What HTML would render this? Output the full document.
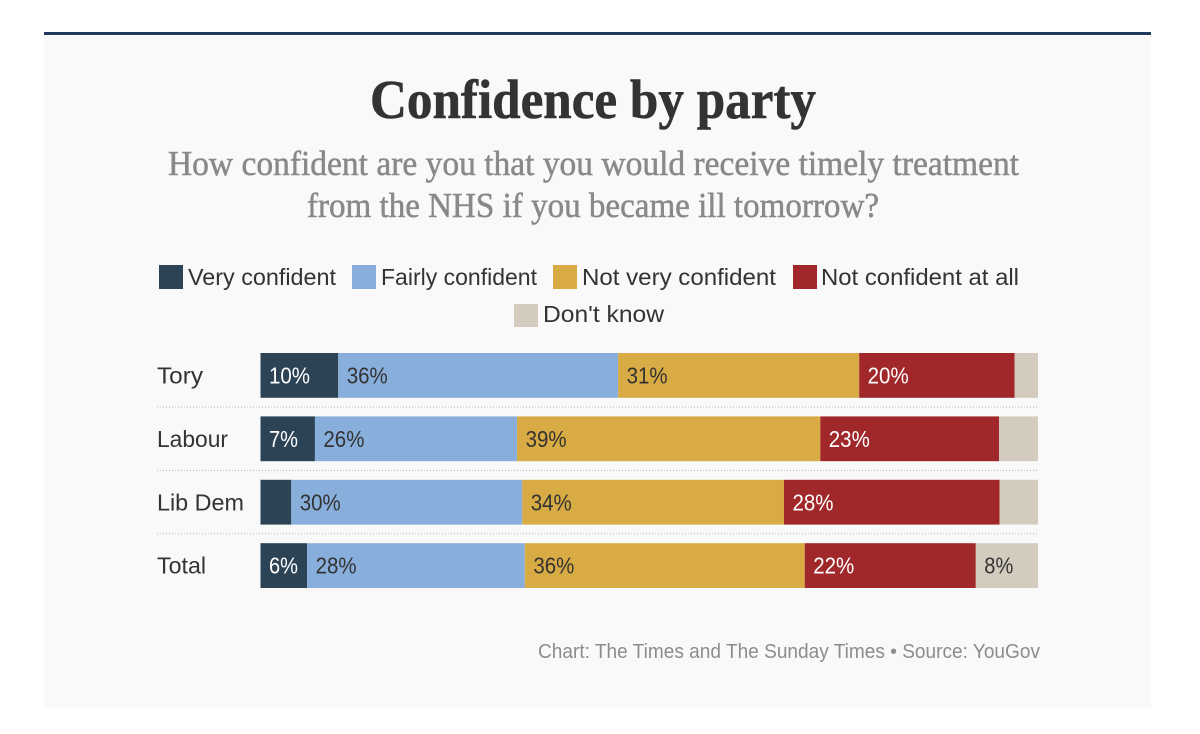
<!DOCTYPE html>
<html lang="en">
<head>
<meta charset="utf-8">
<title>Confidence by party</title>
<style>
html,body{margin:0;padding:0;background:#fff;width:1200px;height:734px;overflow:hidden}
svg{display:block}
.sans{font-family:"Liberation Sans",sans-serif}
.serif{font-family:"Liberation Serif",serif}
</style>
</head>
<body>
<svg id="chart" xmlns="http://www.w3.org/2000/svg" width="1200" height="734" viewBox="0 0 1200 734">
  <rect x="44" y="36" width="1107" height="671.5" fill="#f9f9f9"/>
  <rect x="44" y="32" width="1107" height="3" fill="#1f3a5c"/>
  <text class="serif" x="370" y="118" font-size="55" font-weight="700" fill="#333333" stroke="#333333" stroke-width="0.6" textLength="446" lengthAdjust="spacingAndGlyphs">Confidence by party</text>
  <text class="serif" x="168" y="175" font-size="35" fill="#88898a" stroke="#88898a" stroke-width="0.5" textLength="851" lengthAdjust="spacingAndGlyphs">How confident are you that you would receive timely treatment</text>
  <text class="serif" x="307" y="217" font-size="35" fill="#88898a" stroke="#88898a" stroke-width="0.5" textLength="572" lengthAdjust="spacingAndGlyphs">from the NHS if you became ill tomorrow?</text>

  <g class="sans" font-size="23.5" fill="#333333">
    <rect x="159" y="265" width="24" height="24" fill="#2c4355"/>
    <text x="188" y="285" textLength="148" lengthAdjust="spacingAndGlyphs">Very confident</text>
    <rect x="352" y="265" width="24" height="24" fill="#88aedb"/>
    <text x="381" y="285" textLength="156" lengthAdjust="spacingAndGlyphs">Fairly confident</text>
    <rect x="553" y="265" width="24" height="24" fill="#d8ab44"/>
    <text x="582" y="285" textLength="194" lengthAdjust="spacingAndGlyphs">Not very confident</text>
    <rect x="793" y="265" width="24" height="24" fill="#a0282b"/>
    <text x="821" y="285" textLength="198" lengthAdjust="spacingAndGlyphs">Not confident at all</text>
    <rect x="514" y="304" width="24" height="23" fill="#d4cbbf"/>
    <text x="543" y="322" textLength="121" lengthAdjust="spacingAndGlyphs">Don't know</text>
  </g>

  <g id="plot"></g>

  <text class="sans" x="538" y="658" font-size="20.5" fill="#8c8c8c" textLength="502" lengthAdjust="spacingAndGlyphs">Chart: The Times and The Sunday Times • Source: YouGov</text>
</svg>
<script>
var categories = ['Tory', 'Labour', 'Lib Dem', 'Total'];
var categoryWidths = [46, 71, 87, 49];
var veryConfident = [10, 7, 4, 6];
var fairlyConfident = [36, 26, 30, 28];
var notVeryConfident = [31, 39, 34, 36];
var notConfidentAtAll = [20, 23, 28, 22];
var dontKnow = [3, 5, 5, 8];

var seriesList = [
  { key: 'very-confident', values: veryConfident, fill: '#2c4355', ink: '#ffffff' },
  { key: 'fairly-confident', values: fairlyConfident, fill: '#88aedb', ink: '#333333' },
  { key: 'not-very-confident', values: notVeryConfident, fill: '#d8ab44', ink: '#333333' },
  { key: 'not-confident-at-all', values: notConfidentAtAll, fill: '#a0282b', ink: '#ffffff' },
  { key: 'dont-know', values: dontKnow, fill: '#d4cbbf', ink: '#333333' }
];

var NS = 'http://www.w3.org/2000/svg';
var plot = document.getElementById('plot');
var plotLeft = 260.5, plotRight = 1038;
var bandTop = 353, bandStep = 63.4, bandHeight = 44.8;
var labelThreshold = 6;

function xScale(share) { return plotLeft + share * (plotRight - plotLeft); }
function yScale(index) { return bandTop + index * bandStep; }

categories.forEach(function (category, row) {
  var total = 0;
  seriesList.forEach(function (s) { total += s.values[row]; });

  var y = yScale(row);

  var rowLabel = document.createElementNS(NS, 'text');
  
  
  rowLabel.setAttribute('class', 'sans');
  rowLabel.setAttribute('x', 157);
  rowLabel.setAttribute('y', y + 30.5);
  rowLabel.setAttribute('font-size', 23.5);
  rowLabel.setAttribute('fill', '#333333');
  rowLabel.setAttribute('textLength', categoryWidths[row]);
  rowLabel.setAttribute('lengthAdjust', 'spacingAndGlyphs');
  rowLabel.textContent = category;
  plot.appendChild(rowLabel);

  var cumulative = 0;
  seriesList.forEach(function (s) {
    var value = s.values[row];
    var x0 = xScale(cumulative / total);
    var x1 = xScale((cumulative + value) / total);
    cumulative += value;

    var bar = document.createElementNS(NS, 'rect');
    
    
    bar.setAttribute('x', x0);
    bar.setAttribute('y', y);
    bar.setAttribute('width', x1 - x0);
    bar.setAttribute('height', bandHeight);
    bar.setAttribute('fill', s.fill);
    plot.appendChild(bar);

    if (value >= labelThreshold) {
      var text = value + '%';
      var label = document.createElementNS(NS, 'text');
      
      
      label.setAttribute('class', 'sans');
      label.setAttribute('x', x0 + 8.5);
      label.setAttribute('y', y + 30.5);
      label.setAttribute('font-size', 23);
      label.setAttribute('fill', s.ink);
      label.setAttribute('textLength', text.length * 12 + 5);
      label.setAttribute('lengthAdjust', 'spacingAndGlyphs');
      label.textContent = text;
      plot.appendChild(label);
    }
  });

  if (row < categories.length - 1) {
    var divider = document.createElementNS(NS, 'line');
    
    
    divider.setAttribute('x1', 157);
    divider.setAttribute('x2', plotRight);
    divider.setAttribute('y1', y + 54);
    divider.setAttribute('y2', y + 54);
    divider.setAttribute('stroke', '#b4b4b4');
    divider.setAttribute('stroke-width', 1);
    divider.setAttribute('stroke-dasharray', '1 2');
    plot.appendChild(divider);
  }
});
</script>
</body>
</html>
